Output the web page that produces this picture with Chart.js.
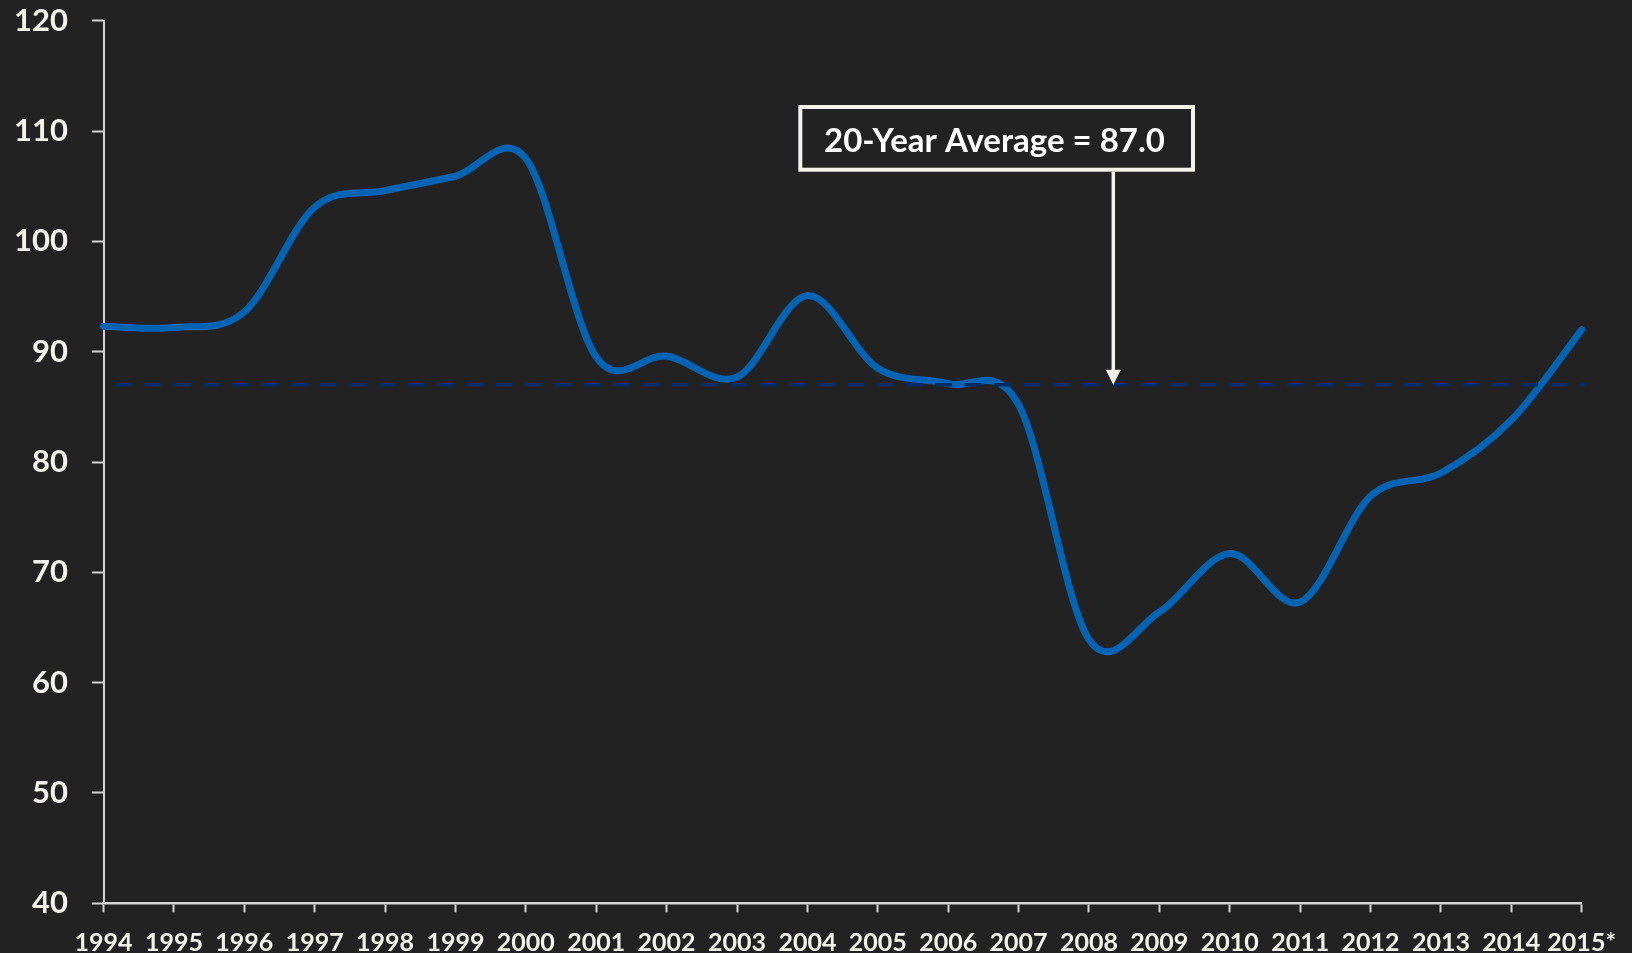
<!DOCTYPE html>
<html>
<head>
<meta charset="utf-8">
<title>20-Year Average</title>
<script src="https://cdn.jsdelivr.net/npm/chart.js@4/dist/chart.umd.min.js"></script>
<style>
  html, body { margin: 0; padding: 0; background: #222222; }
  #wrap { width: 1632px; height: 953px; position: relative; }
</style>
</head>
<body>
<div id="wrap"><canvas id="chart"></canvas></div>
<script>
// Yearly readings, 1994 through the 2015 estimate
const years = ['1994', '1995', '1996', '1997', '1998', '1999', '2000', '2001', '2002', '2003', '2004',
               '2005', '2006', '2007', '2008', '2009', '2010', '2011', '2012', '2013', '2014', '2015*'];
const indexValues = [92.3, 92.2, 93.6, 103.1, 104.6, 105.9, 107.5, 89.5, 89.6, 87.7, 95.1,
                     88.5, 87.1, 85.2, 63.9, 66.4, 71.7, 67.3, 76.9, 79.0, 83.8, 92.0];
const yMin = 40;
const yMax = 120;
const yStep = 10;
const averageValue = 87.0;
const averageLabel = '20-Year Average = ' + averageValue.toFixed(1);

const BG = '#222222';
const TEXT = '#f3f3ea';
const AXIS = '#d4d4d4';
const LINE_BLUE = '#0064b4';
const AVG_NAVY = '#002c66';
const FONT = 'Lato';

// Smooth the series the way office charts do: Catmull-Rom control points
const catmullRom = {
  id: 'catmullRom',
  beforeDatasetsDraw(chart) {
    chart.getSortedVisibleDatasetMetas().forEach(meta => {
      if (meta.type !== 'line' || !meta.dataset) return;
      const line = meta.dataset;
      line.updateControlPoints(chart.chartArea, meta.iAxis);
      const pts = meta.data;
      const n = pts.length;
      for (let i = 0; i < n; i++) {
        const prev = pts[Math.max(i - 1, 0)];
        const next = pts[Math.min(i + 1, n - 1)];
        const dx = (next.x - prev.x) / 6;
        const dy = (next.y - prev.y) / 6;
        pts[i].cp1x = pts[i].x - dx; pts[i].cp1y = pts[i].y - dy;
        pts[i].cp2x = pts[i].x + dx; pts[i].cp2y = pts[i].y + dy;
      }
      line._pointsUpdated = true;
      line._path = undefined;
    });
  }
};

// Dashed average line, drawn over the series
const averageLine = {
  id: 'averageLine',
  afterDatasetsDraw(chart) {
    const { ctx, chartArea } = chart;
    const y = chart.scales.y.getPixelForValue(averageValue);
    ctx.save();
    ctx.strokeStyle = AVG_NAVY;
    ctx.lineWidth = 3.3;
    ctx.setLineDash([16.7, 12.6]);
    ctx.beginPath();
    ctx.moveTo(chartArea.left + 11.5, y);
    ctx.lineTo(chartArea.right + 4, y);
    ctx.stroke();
    ctx.restore();
  }
};

// Callout box with an arrow pointing down to the average line
const averageCallout = {
  id: 'averageCallout',
  afterDraw(chart) {
    const { ctx } = chart;
    const yLine = chart.scales.y.getPixelForValue(averageValue);
    const box = { x: 800.3, y: 107, w: 392.7, h: 62.7 };
    const arrowX = 1113.3;
    const headW = 15, headH = 15;

    ctx.save();
    ctx.fillStyle = BG;
    ctx.fillRect(box.x, box.y, box.w, box.h);
    ctx.strokeStyle = TEXT;
    ctx.lineWidth = 4;
    ctx.strokeRect(box.x, box.y, box.w, box.h);

    ctx.fillStyle = '#ffffff';
    ctx.font = 'bold 33px ' + FONT;
    ctx.textAlign = 'center';
    ctx.textBaseline = 'alphabetic';
    ctx.fillText(averageLabel, 994.5, 152);

    ctx.strokeStyle = TEXT;
    ctx.lineWidth = 3.5;
    ctx.beginPath();
    ctx.moveTo(arrowX, box.y + box.h + 2);
    ctx.lineTo(arrowX, yLine - headH + 1);
    ctx.stroke();
    ctx.fillStyle = TEXT;
    ctx.beginPath();
    ctx.moveTo(arrowX - headW / 2, yLine - headH);
    ctx.lineTo(arrowX + headW / 2, yLine - headH);
    ctx.lineTo(arrowX, yLine);
    ctx.closePath();
    ctx.fill();
    ctx.restore();
  }
};

const background = {
  id: 'background',
  beforeDraw(chart) {
    const { ctx, width, height } = chart;
    ctx.save();
    ctx.fillStyle = BG;
    ctx.fillRect(0, 0, width, height);
    ctx.restore();
  }
};

function build() {
  new Chart(document.getElementById('chart'), {
    type: 'line',
    data: {
      labels: years,
      datasets: [{
        data: indexValues,
        borderColor: LINE_BLUE,
        borderWidth: 7,
        pointRadius: 0,
        pointHoverRadius: 0,
        tension: 0.4,
        fill: false,
        borderCapStyle: 'round',
        borderJoinStyle: 'round'
      }]
    },
    options: {
      responsive: true,
      maintainAspectRatio: false,
      animation: false,
      events: [],
      layout: { padding: { top: 20.7, right: 48.4, left: 0, bottom: 0 } },
      plugins: {
        legend: { display: false },
        tooltip: { enabled: false },
        title: { display: false }
      },
      scales: {
        x: {
          offset: false,
          ticks: {
            color: TEXT,
            font: { family: FONT, weight: 'bold', size: 25 },
            padding: 16,
            autoSkip: false,
            maxRotation: 0,
            minRotation: 0
          },
          grid: {
            display: true,
            drawOnChartArea: false,
            drawTicks: true,
            tickLength: 9,
            tickColor: AXIS,
            tickWidth: 2,
            offset: false
          },
          border: { display: true, color: AXIS, width: 2.5 },
          afterFit(scale) { scale.height = 49.7; }
        },
        y: {
          min: yMin,
          max: yMax,
          ticks: {
            stepSize: yStep,
            color: TEXT,
            font: { family: FONT, weight: 'bold', size: 31 },
            padding: 24
          },
          grid: {
            display: true,
            drawOnChartArea: false,
            drawTicks: true,
            tickLength: 11.5,
            tickColor: AXIS,
            tickWidth: 2
          },
          border: { display: true, color: AXIS, width: 2 },
          afterFit(scale) {
            scale.width = 103.5;
            scale.paddingTop = 0;
            scale.paddingBottom = 0;
          }
        }
      }
    },
    plugins: [background, catmullRom, averageLine, averageCallout]
  });
}

const fontLoads = [document.fonts.load('bold 25px ' + FONT), document.fonts.load('bold 31px ' + FONT)];
Promise.all(fontLoads).then(build, build);
</script>
</body>
</html>
